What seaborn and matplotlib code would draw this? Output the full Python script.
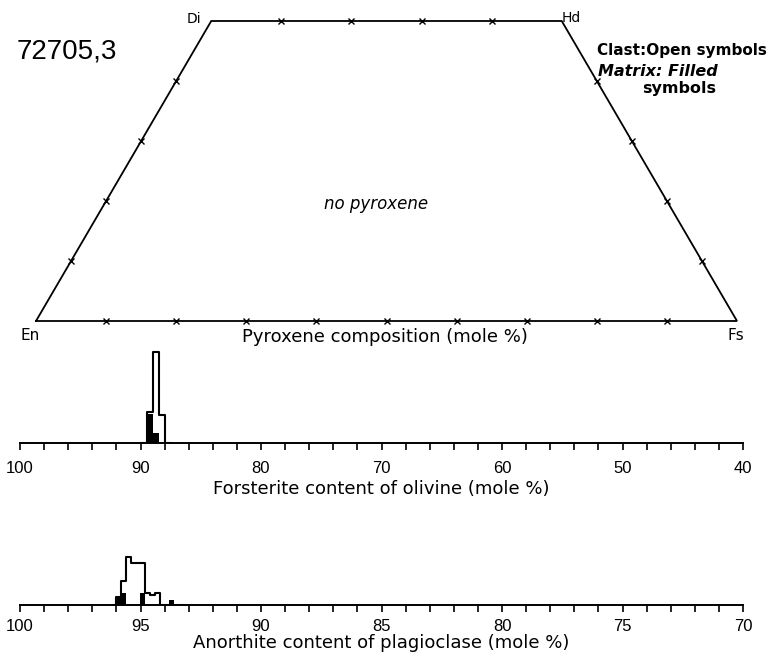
import numpy as np
import seaborn as sns
import matplotlib
matplotlib.use("Agg")
import matplotlib.pyplot as plt
from matplotlib.ticker import MultipleLocator

# ----------------------------
# Data
# ----------------------------
# pyroxene quadrilateral tick marks (mole %)
pyx_base_fs = [10, 20, 30, 40, 50, 60, 70, 80, 90]   # En-Fs join, Wo = 0
pyx_top_fs = [10, 20, 30, 40]                        # Di-Hd join, Wo = 50
pyx_side_wo = [10, 20, 30, 40]                       # En-Di and Fs-Hd sides

# olivine, Fo mole %, 0.5 bins
ol_edges = [87.5, 88.0, 88.5, 89.0, 89.5, 90.0]
ol_centers = [87.75, 88.25, 88.75, 89.25, 89.75]
ol_clast = [0, 4.6, 15.1, 5.1, 0]
ol_matrix = [0, 0, 1.7, 4.8, 0]
ol_ticks = [100, 90, 80, 70, 60, 50, 40]

# plagioclase, An mole %, 0.2 bins
pl_edges = [93.2, 93.4, 93.6, 93.8, 94.0, 94.2, 94.4, 94.6, 94.8,
            95.0, 95.2, 95.4, 95.6, 95.8, 96.0, 96.2]
pl_centers = [93.3, 93.5, 93.7, 93.9, 94.1, 94.3, 94.5, 94.7,
              94.9, 95.1, 95.3, 95.5, 95.7, 95.9, 96.1]
pl_clast = [0, 0, 0, 0, 0, 2, 1.6, 2, 7, 7, 7, 8, 4, 1.3, 0]
pl_matrix = [0, 0, 0.85, 0, 0, 0, 0, 0, 2, 0, 0, 0, 2, 1.3, 0]
pl_ticks = [100, 95, 90, 85, 80, 75, 70]

sns.set_theme(style="ticks")
plt.rcParams["font.family"] = ["DejaVu Sans"]
plt.rcParams["text.color"] = "black"
plt.rcParams["axes.labelcolor"] = "black"
plt.rcParams["xtick.color"] = "black"
NARROW = ["Liberation Sans Narrow", "Liberation Sans", "DejaVu Sans"]

W, H = 781, 658
fig = plt.figure(figsize=(W / 100, H / 100), dpi=100)
fig.patch.set_facecolor("white")


def fx(px):
    return px / W


def fy(py):
    return 1 - py / H


def ftext(px, py, s, **kw):
    fig.text(fx(px), fy(py), s, **kw)


# ----------------------------
# Pyroxene quadrilateral
# ----------------------------
ax_p = fig.add_axes([fx(36), fy(321), fx(737) - fx(36), fy(21) - fy(321)])
ax_p.set_xlim(0, 100)
ax_p.set_ylim(0, 50 * np.sqrt(3) / 2)
ax_p.axis("off")


def tern(fs, wo):
    return fs + wo / 2, wo * np.sqrt(3) / 2


corners = [(0, 0), (0, 50), (50, 50), (100, 0), (0, 0)]
cx, cy = zip(*[tern(fs, wo) for fs, wo in corners])
ax_p.plot(cx, cy, color="black", lw=1.3, clip_on=False, solid_joinstyle="miter")

tick_pts = [tern(f, 0) for f in pyx_base_fs]
tick_pts += [tern(f, 50) for f in pyx_top_fs]
tick_pts += [tern(0, w) for w in pyx_side_wo]
tick_pts += [tern(100 - w, w) for w in pyx_side_wo]
tx, ty = zip(*tick_pts)
ax_p.plot(tx, ty, ls="none", marker="x", ms=4, mew=1.0, color="black", clip_on=False)

ftext(17, 52, "72705,3", fontsize=20, family=["Liberation Sans", "DejaVu Sans"],
      ha="left", va="center")
ftext(201, 19, "Di", fontsize=10, ha="right", va="center")
ftext(562, 18, "Hd", fontsize=10, ha="left", va="center")
ftext(21, 336, "En", fontsize=11, ha="left", va="center")
ftext(736, 336, "Fs", fontsize=11, ha="center", va="center")
ftext(385, 337, "Pyroxene composition (mole %)", fontsize=13, ha="center", va="center")
ftext(376, 204, "no pyroxene", fontsize=12, style="italic", ha="center", va="center")
ftext(682, 51, "Clast:Open symbols", fontsize=11, weight="bold", ha="center", va="center")
ftext(598, 71, "Matrix: Filled", fontsize=11.5, weight="bold", style="italic",
      ha="left", va="center")
ftext(679, 89, "symbols", fontsize=11.5, weight="bold", ha="center", va="center")


# ----------------------------
# Histograms
# ----------------------------
def hist_axis(bottom_px, centers, edges, clast, matrix, xlim, ticks, minor, label,
              pad, labelpad):
    ax = fig.add_axes([fx(20), fy(bottom_px), fx(743) - fx(20), 100 / H])
    sns.histplot(x=centers, weights=matrix, bins=edges, element="bars", fill=True,
                 color="black", alpha=1, linewidth=0, ax=ax)
    sns.histplot(x=centers, weights=clast, bins=edges, element="step", fill=False,
                 color="black", linewidth=1.5, ax=ax)
    ax.set_xlim(*xlim)
    ax.set_ylim(0, 100 / 6)
    ax.set_facecolor("none")
    sns.despine(ax=ax, left=True)
    ax.spines["bottom"].set_linewidth(1.4)
    ax.spines["bottom"].set_color("black")
    ax.set_yticks([])
    ax.set_ylabel("")
    ax.set_xticks(ticks)
    ax.set_xticklabels([str(t) for t in ticks], fontsize=12, family=NARROW)
    ax.xaxis.set_minor_locator(MultipleLocator(minor))
    ax.tick_params(axis="x", which="both", direction="out", length=5, width=1.2,
                   color="black", pad=pad)
    ax.set_xlabel(label, fontsize=13, labelpad=labelpad)
    return ax


hist_axis(443, ol_centers, ol_edges, ol_clast, ol_matrix, (100, 40), ol_ticks, 2,
          "Forsterite content of olivine (mole %)", 8, 3)
hist_axis(605, pl_centers, pl_edges, pl_clast, pl_matrix, (100, 70), pl_ticks, 1,
          "Anorthite content of plagioclase (mole %)", 5, 0)

plt.savefig("out.png", dpi=100, facecolor="white")
